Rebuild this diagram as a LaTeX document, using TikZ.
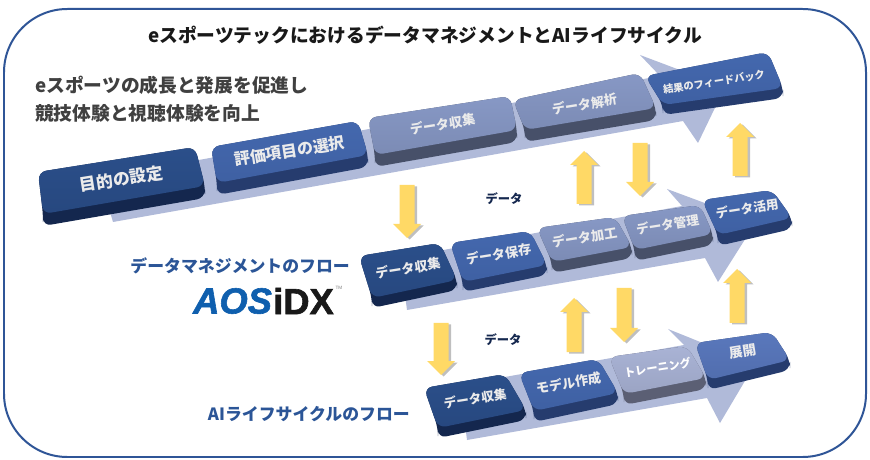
\documentclass[tikz,border=0pt]{standalone}
\usepackage{fontspec}
\setmainfont{Noto Sans CJK JP}
\newfontfamily\logofont[BoldFeatures={FakeBold=1.6},BoldItalicFeatures={FakeBold=1.6}]{Liberation Sans}
\usetikzlibrary{calc}
\definecolor{frameblue}{HTML}{2F5597}
\definecolor{bandblue}{HTML}{B0BAD9}
\definecolor{yellowarrow}{HTML}{FFD966}
\definecolor{headblue}{HTML}{2B5597}
\definecolor{logoblue}{HTML}{0F5FAE}
\definecolor{navytop}{HTML}{2B4F8A}
\definecolor{navyside}{HTML}{14274E}
\definecolor{midtop}{HTML}{4468AE}
\definecolor{midside}{HTML}{263C6E}
\definecolor{paletop}{HTML}{8798C5}
\definecolor{paleside}{HTML}{475069}
\definecolor{greytop}{HTML}{A9B3D5}
\definecolor{greyside}{HTML}{5B5F74}
\definecolor{lighttop}{HTML}{5A78BC}
\tikzset{
  blocktext/.style={text=black!8,font=\fontsize{11.2}{13}\selectfont\bfseries,inner sep=0pt,rotate=9},
  headtext/.style={font=\fontsize{16}{18}\selectfont\bfseries,inner sep=0pt},
  flowtext/.style={headtext,font=\fontsize{14.4}{17}\selectfont\bfseries,text=headblue,anchor=east},
  datatext/.style={inner sep=0pt,text=navyside,font=\fontsize{10.5}{12}\selectfont\bfseries},
  flowshadow/.style={fill=black,opacity=.25}
}
% name, TL, TR, BR, BL, depth, face colour, side colour, text
\newcommand{\flowblock}[9]{
  \fill[#8,rounded corners=7pt] (#2)--(#3)--(#4)--++(0,#6)--($(#5)+(0,#6)$)--(#5)--cycle;
  \shade[top color=#7,bottom color=#7!82!#8,rounded corners=7pt] (#2)--(#3)--(#4)--(#5)--cycle;
  \coordinate (#1c) at ($(#2)!.5!(#4)$);
  \node[blocktext] (#1) at (#1c) {#9};
}
% x, tail y, tip y (direction follows from the two y values)
\newcommand{\yellowflow}[3]{
  \pgfmathsetmacro{\heady}{#3+14*sign(#2-#3)}
  \fill[flowshadow,shift={(2.5,1.5)}] (#1-7.5,#2)--(#1+7.5,#2)--(#1+7.5,\heady)--(#1+14,\heady)--(#1,#3)--(#1-14,\heady)--(#1-7.5,\heady)--cycle;
  \fill[yellowarrow] (#1-7.5,#2)--(#1+7.5,#2)--(#1+7.5,\heady)--(#1+14,\heady)--(#1,#3)--(#1-14,\heady)--(#1-7.5,\heady)--cycle;
}
\begin{document}
\begin{tikzpicture}[x=.03cm,y=-.03cm]
\useasboundingbox (0,0) rectangle (870,460);
\fill[white] (0,0) rectangle (870,460);
\draw[frameblue,line width=1.7pt,rounded corners=1.9cm] (4,9) rectangle (866,457);
\node[headtext,text=black!90] (title) at (425,35) {eスポーツテックにおけるデータマネジメントとAIライフサイクル};
\node[headtext,text=black!75,anchor=west] (goal1) at (35,85) {eスポーツの成長と発展を促進し};
\node[headtext,text=black!75,anchor=west] (goal2) at (35,113) {競技体験と視聴体験を向上};
\node[flowtext] (dmflow) at (350,266) {データマネジメントのフロー};
\node[flowtext] (aiflow) at (410,414) {AIライフサイクルのフロー};
\node[anchor=west,inner sep=0pt,text=logoblue,font=\logofont\fontsize{31}{31}\selectfont\bfseries\itshape] (logoa) at (193,301) {AOS};
\node[anchor=west,inner sep=0pt,text=black!90,font=\logofont\fontsize{31}{31}\selectfont\bfseries] (logob) at (273,301) {iDX};
\node[inner sep=0pt,text=black!50,font=\logofont\fontsize{4}{4}\selectfont] (logotm) at (339,288) {TM};
% background arrows
\fill[bandblue] (113,222)--(683,121)--(698,143)--(725,87)--(640,55)--(660,76)--(100,178)--cycle;
\fill[bandblue] (407,310)--(705,258)--(718,282)--(756,222)--(667,189)--(682,206)--(400,258)--cycle;
\fill[bandblue] (467,440)--(707,398)--(720,423)--(755,364)--(668,329)--(684,345)--(460,385)--cycle;
% top row
\flowblock{setgoal}{38,172}{195,147}{205,186}{43,214}{12}{navytop}{navyside}{\fontsize{14.4}{16}\selectfont 目的の設定}
\flowblock{select}{211,147}{358,121}{368,155}{217,183}{12}{midtop}{midside}{\fontsize{13.6}{16}\selectfont 評価項目の選択}
\flowblock{collecta}{368,118}{510,96}{517,130}{375,155}{12}{paletop}{paleside}{データ収集}
\flowblock{analyse}{513,100}{640,73}{656,108}{525,130}{12}{paletop}{paleside}{データ解析}
\flowblock{feedback}{645,76}{768,52}{783,88}{663,105}{10}{midtop}{midside}{\fontsize{8.8}{11}\selectfont 結果のフィードバック}
% middle row
\flowblock{collectb}{359,256}{440,243}{457,280}{372,298}{10}{navytop}{navyside}{データ収集}
\flowblock{store}{450,243}{530,231}{547,265}{463,282}{10}{midtop}{midside}{データ保存}
\flowblock{process}{537,228}{615,217}{632,247}{552,262}{11}{paletop}{paleside}{データ加工}
\flowblock{manage}{622,216}{700,205}{713,234}{635,250}{11}{paletop}{paleside}{\fontsize{10.8}{13}\selectfont データ管理}
\flowblock{use}{702,200}{772,190}{792,218}{718,235}{11}{midtop}{midside}{\fontsize{10.8}{13}\selectfont データ活用}
% bottom row
\flowblock{collectc}{424,388}{505,374}{526,410}{438,428}{10}{navytop}{navyside}{\fontsize{10.8}{13}\selectfont データ収集}
\flowblock{model}{519,373}{598,359}{618,393}{534,411}{11}{midtop}{midside}{モデル作成}
\flowblock{train}{609,357}{687,346}{706,378}{624,394}{11}{greytop}{greyside}{\fontsize{9.6}{12}\selectfont\color{white} トレーニング}
\flowblock{deploy}{695,343}{772,332}{790,360}{708,380}{10}{lighttop}{midside}{\fontsize{11.6}{13}\selectfont 展開}
% yellow arrows
\yellowflow{407}{185}{238}
\yellowflow{584}{204}{151}
\yellowflow{640}{143}{196}
\yellowflow{740}{176}{123}
\yellowflow{441}{323}{375}
\yellowflow{574}{352}{298}
\yellowflow{624}{288}{342}
\yellowflow{737}{323}{269}
\node[datatext] (dataa) at (504,199) {データ};
\node[datatext] (datab) at (503,340) {データ};
\end{tikzpicture}
\end{document}
